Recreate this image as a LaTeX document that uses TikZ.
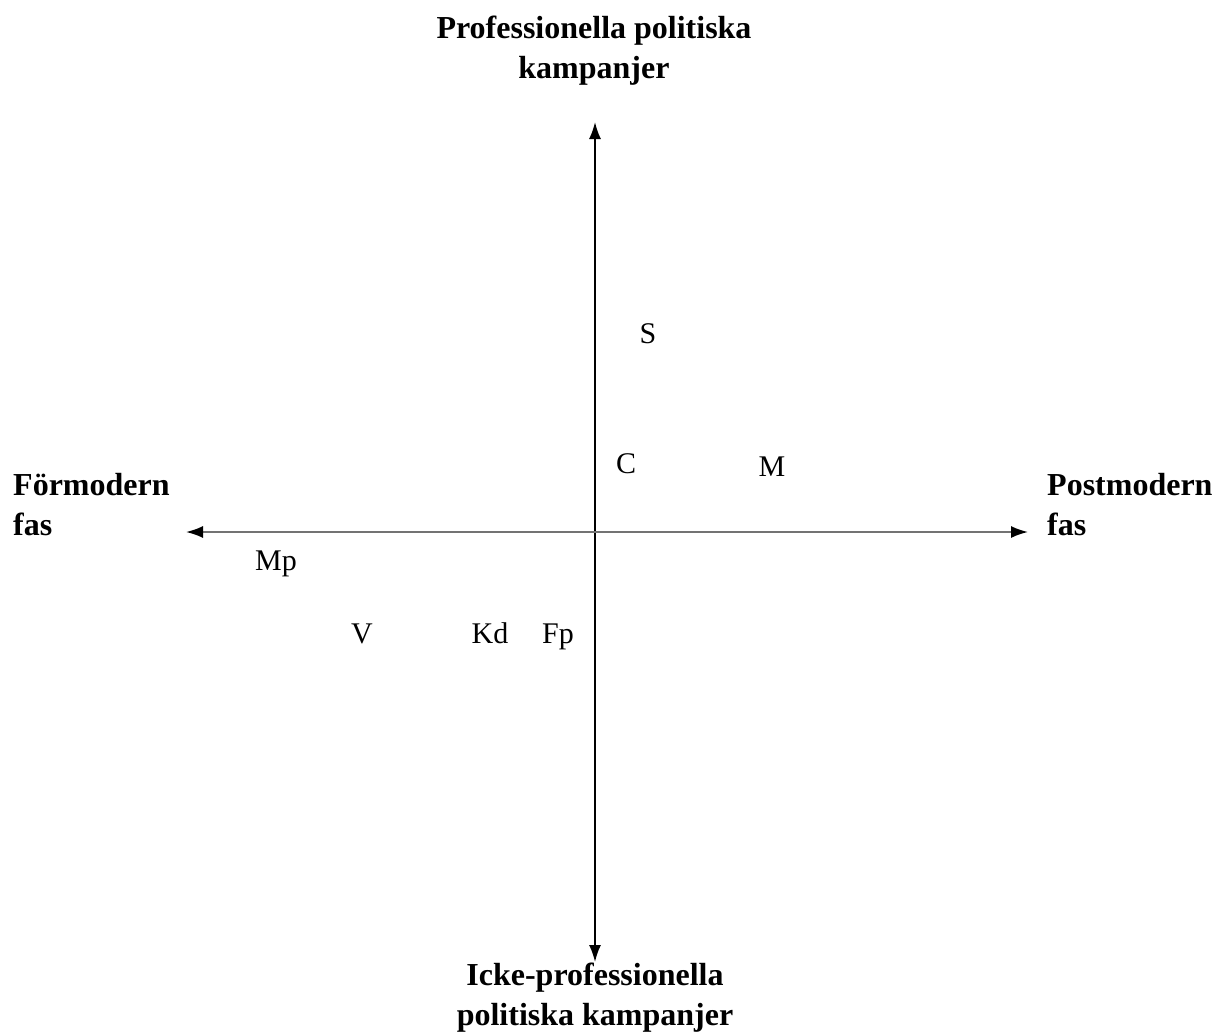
\documentclass[tikz,border=0pt]{standalone}
\usepackage{fontspec}
\setmainfont{Liberation Serif}
\usetikzlibrary{arrows.meta}
\tikzset{
  axlabel/.style={font=\fontsize{32}{40}\selectfont\bfseries,inner sep=0pt},
  party/.style={font=\fontsize{30}{36}\selectfont,inner sep=0pt,anchor=base},
  axis/.style={{Latex[length=17pt,width=12pt,black]}-{Latex[length=17pt,width=12pt,black]},line width=1.8pt}
}

\begin{document}
\begin{tikzpicture}[x=1pt,y=-1pt]
\useasboundingbox (0,0) rectangle (1222,1033);

\coordinate (top) at (595,122);
\coordinate (bot) at (595,962);
\coordinate (west) at (186,532);
\coordinate (east) at (1028,532);

\draw[axis] (bot) -- (top);
\draw[axis,black!55] (west) -- (east);

\node[axlabel,align=center,anchor=base] (prof) at (594,78) {Professionella politiska\\kampanjer};
\node[axlabel,align=center,anchor=base] (icke) at (595,1025) {Icke-professionella\\politiska kampanjer};
\node[axlabel,align=left,anchor=base west] (pre) at (13,535) {Förmodern\\fas};
\node[axlabel,align=left,anchor=base west] (post) at (1047,535) {Postmodern\\fas};

\node[party] (s) at (648,343) {S};
\node[party] (c) at (626,473) {C};
\node[party] (m) at (772,476) {M};
\node[party] (mp) at (276,570) {Mp};
\node[party] (v) at (362,643) {V};
\node[party] (kd) at (490,643) {Kd};
\node[party] (fp) at (558,643) {Fp};

\end{tikzpicture}
\end{document}
